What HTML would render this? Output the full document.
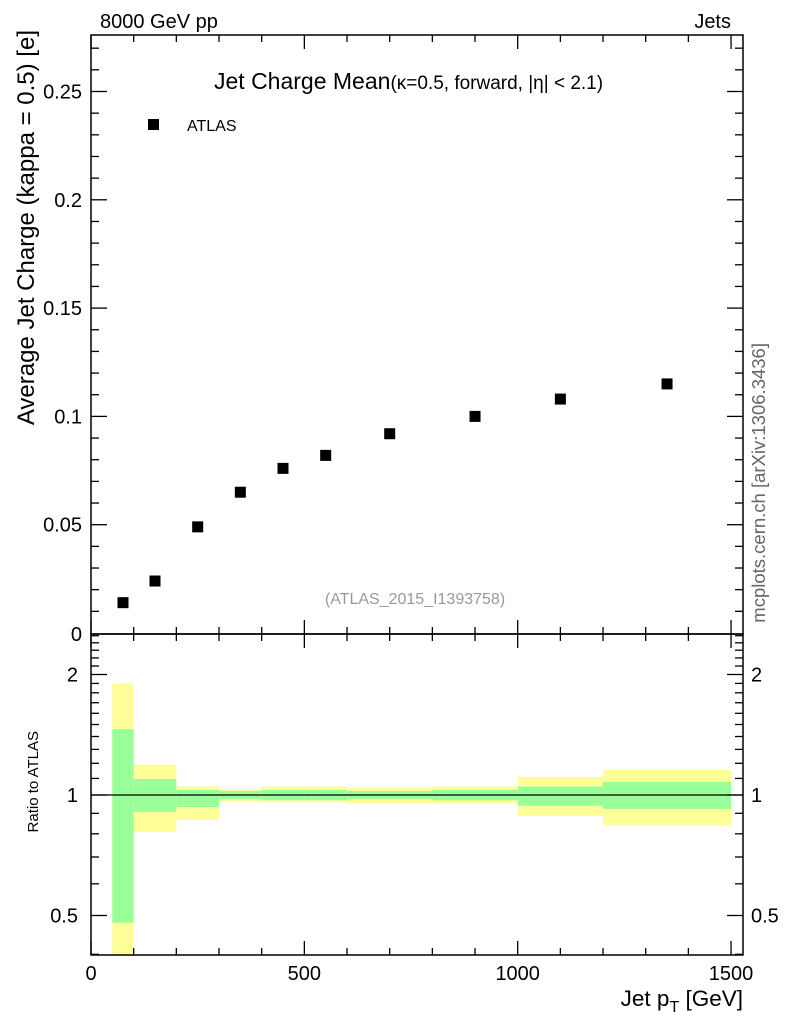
<!DOCTYPE html>
<html><head><meta charset="utf-8"><style>
body{margin:0;background:#fff;}
svg text{font-family:"Liberation Sans",sans-serif;}
</style></head><body>
<svg id="c" width="786" height="1024" xmlns="http://www.w3.org/2000/svg"></svg>
<script>
const binEdges=[50,100,200,300,400,500,600,800,1000,1200,1500];
const pointX=[75,150,250,350,450,550,700,900,1100,1350];
const pointY=[0.014,0.024,0.049,0.065,0.076,0.082,0.092,0.100,0.108,0.115];
const yellowUp=[1.9,1.19,1.05,1.035,1.05,1.05,1.04,1.05,1.11,1.155];
const yellowDn=[0.3,0.81,0.866,0.96,0.96,0.96,0.955,0.955,0.886,0.84];
const greenUp=[1.46,1.096,1.03,1.023,1.03,1.03,1.023,1.03,1.05,1.078];
const greenDn=[0.48,0.907,0.933,0.977,0.97,0.97,0.977,0.97,0.94,0.923];
const xTicks=[0,500,1000,1500];
const yTicks=[0.05,0.1,0.15,0.2,0.25];
const yTickLabels=["0.05","0.1","0.15","0.2","0.25"];
const rTicks=[0.5,1,2];
const rTickLabels=["0.5","1","2"];

const L=91,R=743,T=35,M=634,B=955;
const X=v=>L+v*0.4267;
const Y=v=>633-v*2166;
const RY=r=>795-Math.log2(r)*120.5;
const svg=document.getElementById('c');
const NS='http://www.w3.org/2000/svg';
function mk(tag,attrs,name,parent){const e=document.createElementNS(NS,tag);for(const k in attrs)e.setAttribute(k,attrs[k]);


(parent||svg).appendChild(e);return e;}
function txt(x,y,s,size,name,anchor,extra){const t=mk('text',Object.assign({x:x,y:y,'font-size':size,'text-anchor':anchor||'start',fill:'#000'},extra||{}),name);t.textContent=s;return t;}

for(let i=0;i<binEdges.length-1;i++){
 const x0=X(binEdges[i]),x1=X(binEdges[i+1]);
 const yu=Math.max(RY(yellowUp[i]),M),yd=Math.min(RY(yellowDn[i]),B);
 mk('rect',{x:x0,y:yu,width:x1-x0,height:yd-yu,fill:'#ffff99'},'band-yellow');
 const gu=Math.max(RY(greenUp[i]),M),gd=Math.min(RY(greenDn[i]),B);
 mk('rect',{x:x0,y:gu,width:x1-x0,height:gd-gu,fill:'#99ff99'},'band-green');
}
mk('line',{x1:L,x2:R,y1:RY(1),y2:RY(1),stroke:'#000','stroke-width':1.2},'ratio-reference-line');

mk('rect',{x:L,y:T,width:R-L,height:M-T,fill:'none',stroke:'#000','stroke-width':1.5},'main-frame');
mk('rect',{x:L,y:M,width:R-L,height:B-M,fill:'none',stroke:'#000','stroke-width':1.5},'ratio-frame');

for(let v=0;v<=1500;v+=100){
 const major=v%500===0,len=major?14:7,x=X(v);
 [[T,1],[M,-1],[M,1],[B,-1]].forEach(([y0,d])=>mk('line',{x1:x,x2:x,y1:y0,y2:y0+d*len,stroke:'#000','stroke-width':1.3},'x-tick'));
}
xTicks.forEach(v=>txt(X(v),980,String(v),20,'x-tick-label','middle'));
for(let i=1;i<=27;i++){const v=i*0.01,y=Y(v),major=i%5===0,len=major?16:8;
 mk('line',{x1:L,x2:L+len,y1:y,y2:y,stroke:'#000','stroke-width':1.3},'y-tick');
 mk('line',{x1:R,x2:R-len,y1:y,y2:y,stroke:'#000','stroke-width':1.3},'y-tick');}
yTicks.forEach((v,i)=>txt(82,Y(v)+7,yTickLabels[i],20,'y-tick-label','end'));
txt(82,641,"0",20,'y-tick-label-zero','end');
const rMinor=[0.4,0.5,0.6,0.7,0.8,0.9,1,1.1,1.2,1.3,1.4,1.5,1.6,1.7,1.8,1.9,2,2.1,2.2,2.3,2.4,2.5];
rMinor.forEach(r=>{const y=RY(r);if(y<M||y>B)return;const major=(r===0.5||r===1||r===2),len=major?16:8;
 mk('line',{x1:L,x2:L+len,y1:y,y2:y,stroke:'#000','stroke-width':1.3},'ratio-tick');
 mk('line',{x1:R,x2:R-len,y1:y,y2:y,stroke:'#000','stroke-width':1.3},'ratio-tick');});
rTicks.forEach((r,i)=>{txt(78,RY(r)+7,rTickLabels[i],20,'ratio-tick-label-left','end');txt(751,RY(r)+7,rTickLabels[i],20,'ratio-tick-label-right','start');});

pointX.forEach((v,i)=>mk('rect',{x:X(v)-5.5,y:Y(pointY[i])-5.5,width:11,height:11,fill:'#000'},'data-point'));

txt(100,28,"8000 GeV pp",20,'energy-label');
txt(731,28,"Jets",20,'process-label','end');
const tt=txt(214,89,"Jet Charge Mean",23,'plot-title');
const ts=document.createElementNS(NS,'tspan');ts.setAttribute('font-size','19');ts.textContent="(κ=0.5, forward, |η| < 2.1)";tt.appendChild(ts);
mk('rect',{x:148,y:119,width:11,height:11,fill:'#000'},'legend-marker');
txt(187,131,"ATLAS",16,'legend-label');
txt(415,604,"(ATLAS_2015_I1393758)",16,'analysis-id','middle',{fill:'#999'});
txt(0,0,"Average Jet Charge (kappa = 0.5) [e]",24,'y-axis-title','end',{transform:'translate(34,30) rotate(-90)'});
txt(0,0,"Ratio to ATLAS",15,'ratio-axis-title','end',{transform:'translate(38,731) rotate(-90)'});
txt(0,0,"mcplots.cern.ch [arXiv:1306.3436]",18.5,'watermark','end',{transform:'translate(765,343) rotate(-90)',fill:'#666'});
const xt=txt(743,1006,"Jet p",22.5,'x-axis-title','end');
const s1=document.createElementNS(NS,'tspan');s1.setAttribute('font-size','16');s1.setAttribute('dy','6');s1.textContent="T";xt.appendChild(s1);
const s2=document.createElementNS(NS,'tspan');s2.setAttribute('dy','-6');s2.textContent=" [GeV]";xt.appendChild(s2);
</script>
</body></html>
